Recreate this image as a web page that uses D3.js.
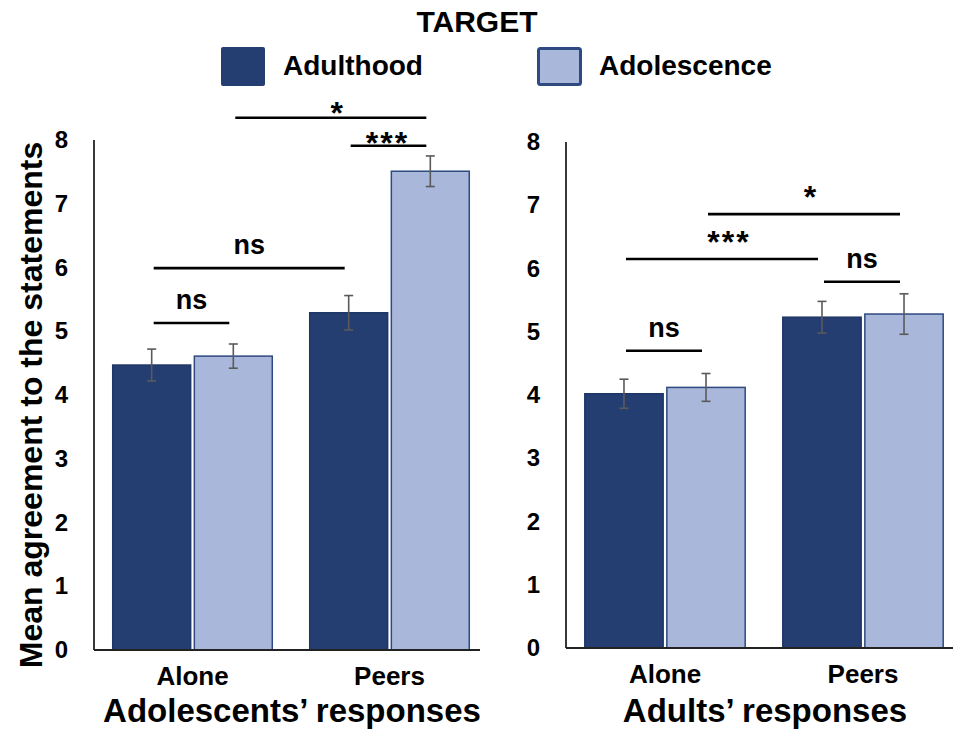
<!DOCTYPE html>
<html><head><meta charset="utf-8">
<script src="https://cdn.jsdelivr.net/npm/d3@7"></script>
<style>body{margin:0;background:#fff}text{font-family:Arial,"Liberation Sans",sans-serif;font-weight:bold;fill:#000}</style>
</head><body>
<svg id="c" width="953" height="739"></svg>
<script>
const categories = ["Alone", "Peers"];
const seriesNames = ["Adulthood", "Adolescence"];
// Adolescents' responses
const adolMeans = [[4.47, 4.61], [5.29, 7.51]];
const adolSE = [[0.25, 0.19], [0.27, 0.24]];
// Adults' responses
const adultMeans = [[4.02, 4.12], [5.23, 5.28]];
const adultSE = [[0.23, 0.22], [0.25, 0.32]];
const yTicks = [0, 1, 2, 3, 4, 5, 6, 7, 8];
// significance brackets: [fromGroup, fromSeries, toGroup, toSeries, yValue, label]
const adolSig = [[0,0,0,1,5.13,"ns"],[0,0,1,0,5.99,"ns"],[1,0,1,1,7.91,"***"],[0,1,1,1,8.35,"*"]];
const adultSig = [[0,0,0,1,4.70,"ns"],[1,0,1,1,5.79,"ns"],[0,0,1,0,6.15,"***"],[0,1,1,1,6.86,"*"]];

const colors = ["#243e71", "#a9b7db"];
const strokes = ["#1e3566", "#2e4a80"];
const svg = d3.select("#c");
const FF = "Arial,'Liberation Sans',sans-serif";

function panel(opt){
  const x0 = d3.scaleBand().domain(categories).range([opt.left, opt.left + 2*opt.step]).paddingInner(0.19).paddingOuter(0.095);
  const x1 = d3.scaleBand().domain(seriesNames).range([0, x0.bandwidth()]).paddingInner(0.045);
  const y = d3.scaleLinear().domain([0, 8]).range([opt.base, opt.top]);
  const g = svg.append("g");
  categories.forEach((c, ci) => {
    seriesNames.forEach((s, si) => {
      const v = opt.means[ci][si], e = opt.se[ci][si];
      const bx = x0(c) + x1(s);
      g.append("rect").attr("x", bx).attr("y", y(v)).attr("width", x1.bandwidth()).attr("height", y(0) - y(v))
        .attr("fill", colors[si]).attr("stroke", strokes[si]).attr("stroke-width", 1.5);
      const cx = bx + x1.bandwidth()/2;
      const eg = g.append("g").attr("stroke", "#5a5a5a").attr("stroke-width", 1.6);
      eg.append("line").attr("x1", cx).attr("x2", cx).attr("y1", y(v+e)).attr("y2", y(v-e));
      eg.append("line").attr("x1", cx-4.5).attr("x2", cx+4.5).attr("y1", y(v+e)).attr("y2", y(v+e));
      eg.append("line").attr("x1", cx-4.5).attr("x2", cx+4.5).attr("y1", y(v-e)).attr("y2", y(v-e));
    });
  });
  const ya = d3.axisLeft(y).tickValues(yTicks).tickSize(0).tickPadding(opt.tickPad).tickFormat(d3.format("d"));
  const yg = g.append("g").attr("transform", `translate(${opt.left},0)`).call(ya);
  yg.select(".domain").attr("stroke", "#222").attr("stroke-width", 1.8).attr("d", `M0,${opt.top}V${opt.base}`);
  yg.selectAll("text").attr("font-size", 24).attr("font-family", FF).attr("font-weight", "bold").attr("fill", "#000");
  const xa = d3.axisBottom(x0).tickSize(0).tickPadding(17);
  const xg = g.append("g").attr("transform", `translate(0,${opt.base})`).call(xa);
  xg.select(".domain").attr("stroke", "#222").attr("stroke-width", 1.8).attr("d", `M${opt.left},0H${opt.right}`);
  xg.selectAll("text").attr("font-size", 26).attr("font-family", FF).attr("font-weight", "bold").attr("fill", "#000");
  g.append("text").attr("x", opt.titleX).attr("y", 722).attr("text-anchor", "middle").attr("font-size", 33).text(opt.title);
  const bc = (ci, si) => x0(categories[ci]) + x1(seriesNames[si]) + x1.bandwidth()/2;
  opt.sig.forEach((s, k) => {
    const xa1 = bc(s[0], s[1]) + 2, xa2 = bc(s[2], s[3]) - 4, yy = y(s[4]);
    g.append("line").attr("x1", xa1).attr("x2", xa2).attr("y1", yy).attr("y2", yy).attr("stroke", "#000").attr("stroke-width", 2.6);
    const star = s[5] !== "ns";
    const t = g.append("text").attr("x", (xa1 + xa2)/2 + (star ? opt.starDx[k] + 1 : 0)).attr("y", star ? yy + opt.starDy[k] : yy - 14)
      .attr("text-anchor", "middle").attr("font-size", star ? 32 : 27).text(s[5]);
    if (star) t.attr("letter-spacing", 2);
  });
}

panel({left: 94, step: 197, right: 480, base: 650, top: 140, tickPad: 26, means: adolMeans, se: adolSE, sig: adolSig, title: "Adolescents’ responses", titleX: 292, starDx: [0,0,-2,6], starDy: [0,0,8,6]});
panel({left: 566, step: 198, right: 953, base: 648, top: 142, tickPad: 26, means: adultMeans, se: adultSE, sig: adultSig, title: "Adults’ responses", titleX: 765, starDx: [0,0,6,6], starDy: [0,0,-6,-6]});

svg.append("text").attr("transform", "translate(42,405) rotate(-90)").attr("text-anchor", "middle").attr("font-size", 32).text("Mean agreement to the statements");

svg.append("text").attr("x", 477).attr("y", 32).attr("text-anchor", "middle").attr("font-size", 30).text("TARGET");
const legX = [221, 537];
seriesNames.forEach((s, i) => {
  svg.append("rect").attr("x", legX[i] + (i ? 1.5 : 0)).attr("y", 47 + (i ? 1.5 : 0)).attr("width", i ? 42 : 44).attr("height", i ? 36 : 39)
    .attr("rx", 2).attr("fill", colors[i]).attr("stroke", i ? "#2e4a80" : "none").attr("stroke-width", 3);
  svg.append("text").attr("x", legX[i] + 62).attr("y", 75).attr("font-size", 28).text(s);
});
</script>
</body></html>
